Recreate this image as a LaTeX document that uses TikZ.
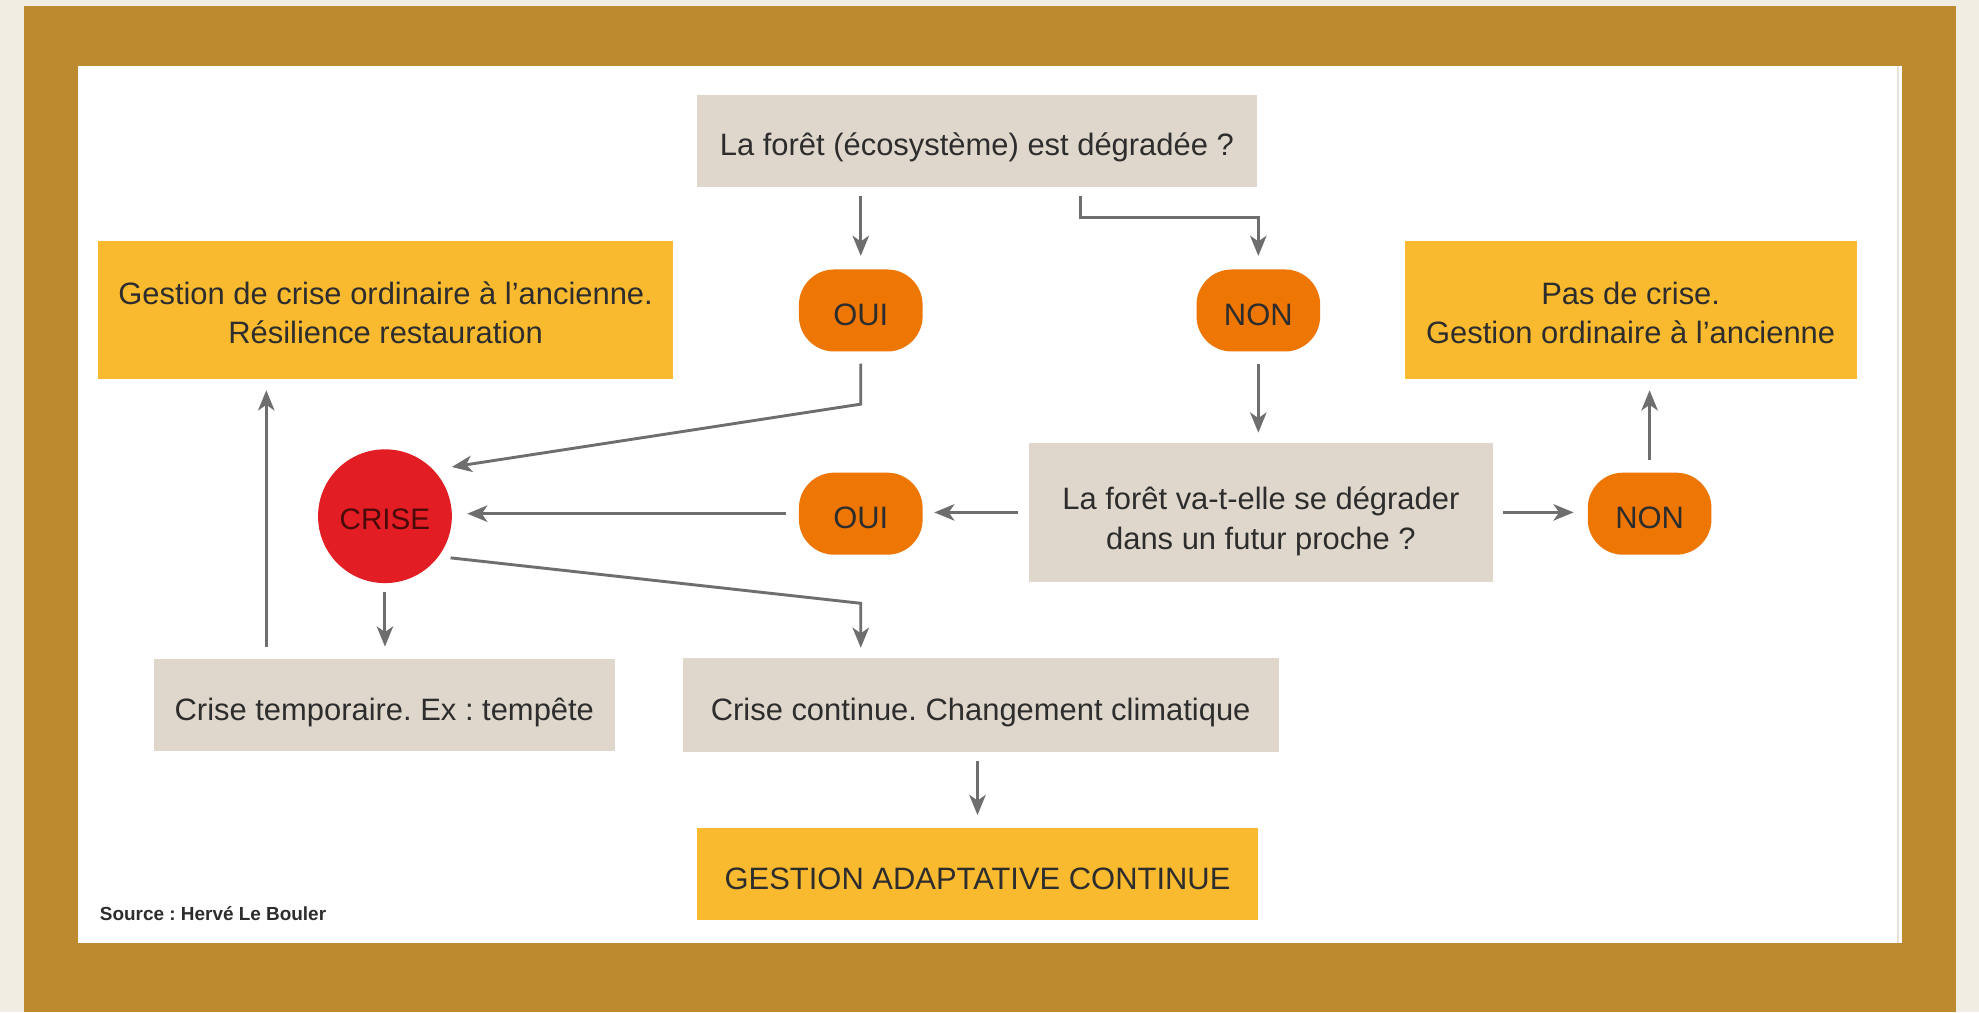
\documentclass[tikz,border=0pt]{standalone}
\usepackage{fontspec}
\setmainfont{Liberation Sans}
\frenchspacing
\usetikzlibrary{arrows.meta}
\definecolor{cream}{HTML}{F0EDE2}
\definecolor{gold}{HTML}{BE8A2F}
\definecolor{beige}{HTML}{DFD7CC}
\definecolor{yel}{HTML}{F9BA2F}
\definecolor{orng}{HTML}{EE7603}
\definecolor{crimson}{HTML}{E21D24}
\definecolor{arrgray}{HTML}{6E6E6E}
\definecolor{txt}{HTML}{2D2D2D}
\definecolor{crisetxt}{HTML}{4A0A0A}
\definecolor{edgeline}{HTML}{E6E1DA}
\begin{document}
\begin{tikzpicture}[x=1pt,y=-1pt,
  box/.style={rectangle, inner sep=0pt, align=center, text=txt, font=\fontsize{24.5}{31.3}\selectfont},
  oneline/.style={text height=24pt, text depth=0pt},
  twoline/.style={text height=#1, text depth=0pt},
  qbox/.style={box, fill=beige},
  ybox/.style={box, fill=yel},
  pill/.style={box, oneline, fill=orng, rounded corners=28pt, minimum width=98pt, minimum height=65pt},
  arr/.style={draw=arrgray, line width=2.3pt, -{Stealth[length=16pt,width=13pt,inset=4.5pt]}},
]
\useasboundingbox (0,0) rectangle (1568,802);
\fill[cream] (0,0) rectangle (1568,802);
\fill[gold] (19,5) rectangle (1550,802);
\fill[white] (62,52) rectangle (1507,747);
\draw[line width=1.5pt, edgeline] (1504,52) -- (1504,747);

\node[qbox, oneline, minimum width=444pt, minimum height=73pt] (q1) at (774,111.5) {La forêt (écosystème) est dégradée ?};
\node[pill] (oui1) at (682,246) {OUI};
\node[pill] (non1) at (997,246) {NON};
\node[ybox, twoline=54pt, minimum width=455pt, minimum height=109pt] (lbox) at (305.5,245.5) {Gestion de crise ordinaire à l’ancienne.\\Résilience restauration};
\node[ybox, twoline=54pt, minimum width=358pt, minimum height=109pt] (rbox) at (1292,245.5) {Pas de crise.\\Gestion ordinaire à l’ancienne};
\node[circle, fill=crimson, minimum size=106pt, inner sep=0pt, text=crisetxt, text height=21.6pt, text depth=0pt, font=\fontsize{23.5}{28}\selectfont] (crise) at (305,409) {CRISE};
\node[pill] (oui2) at (682,407) {OUI};
\node[qbox, twoline=58pt, minimum width=368pt, minimum height=110pt] (q2) at (999,406) {La forêt va-t-elle se dégrader\\dans un futur proche ?};
\node[pill] (non2) at (1307,407) {NON};
\node[qbox, oneline, minimum width=365pt, minimum height=73pt] (tbox) at (304.5,558.5) {Crise temporaire. Ex : tempête};
\node[qbox, oneline, minimum width=472pt, minimum height=74pt] (cbox) at (777,558.5) {Crise continue. Changement climatique};
\node[ybox, oneline, minimum width=445pt, minimum height=73pt] (gbox) at (774.5,692.5) {GESTION ADAPTATIVE CONTINUE};
\node[anchor=base west, inner sep=0pt, font=\bfseries\fontsize{15}{18}\selectfont, text=txt] (src) at (79,729) {Source : Hervé Le Bouler};

\coordinate (ctip) at ([shift={(53,-39)}]crise.center);
\coordinate (istart) at ([shift={(52,33)}]crise.center);
\coordinate (ibend) at (682,478);

\draw[arr, shorten <=7pt, shorten >=10.5pt] (q1.south -| oui1.north) -- (oui1.north);
\draw[arr, shorten <=7pt, shorten >=10.5pt] ([xshift=82pt]q1.south) -- ++(0,24) -| (non1.north);
\draw[arr, shorten <=9.5pt] (oui1.south) -- ++(0,41.5) -- (ctip);
\draw[arr, shorten <=9.5pt, shorten >=8pt] (non1.south) -- (non1.south |- q2.north);
\draw[arr, shorten <=8pt, shorten >=9pt] (q2.west) -- (q2.west -| oui2.east);
\draw[arr, shorten <=10pt, shorten >=12pt] (oui2.west) -- (oui2.west -| crise.east);
\draw[arr, shorten <=8pt, shorten >=11pt] (q2.east) -- (q2.east -| non2.west);
\draw[arr, shorten <=9.5pt, shorten >=9pt] (non2.north) -- (non2.north |- rbox.south);
\draw[arr, shorten >=8pt] (istart) -- (ibend) -- (ibend |- cbox.north);
\draw[arr, shorten <=7pt, shorten >=9.5pt] (crise.south) -- (crise.south |- tbox.north);
\draw[arr, shorten <=9pt, shorten >=9pt] ([xshift=-93.5pt]tbox.north) -- ([xshift=-93.5pt]tbox.north |- lbox.south);
\draw[arr, shorten <=7.5pt, shorten >=10pt] (gbox.north |- cbox.south) -- (gbox.north);
\end{tikzpicture}
\end{document}
